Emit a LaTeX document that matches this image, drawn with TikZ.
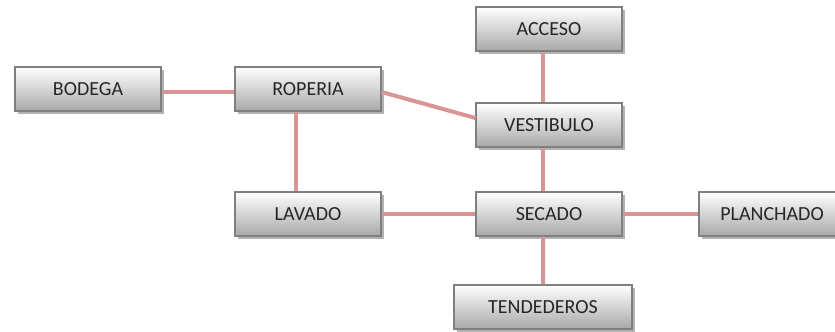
\documentclass[tikz,border=0pt]{standalone}
\usepackage{fontspec}
\setmainfont{Carlito}
\usepackage{xcolor}
\usetikzlibrary{shadows}
\definecolor{linkpink}{HTML}{D99594}
\definecolor{boxedge}{HTML}{7F7F7F}
\tikzset{every node/.append style={font=\fontsize{12}{14}\selectfont}}

\begin{document}
\begin{tikzpicture}[x=0.6pt, y=-0.6pt,
    room/.style={draw=boxedge, line width=0.7pt, top color=white, bottom color=black!34,
      text=black!85, minimum width=87.6pt, minimum height=26.4pt, inner sep=0pt,
      drop shadow={shadow xshift=1.8pt, shadow yshift=-1.8pt, fill=black!30, opacity=1}},
    link/.style={draw=linkpink, line width=2.4pt}]
    \useasboundingbox (0,0) rectangle (835,331);
    % rooms
    \node[room] (bodega) at (88,89) {BODEGA};
    \node[room] (roperia) at (308,89) {ROPERIA};
    \node[room] (acceso) at (549,29) {ACCESO};
    \node[room] (vestibulo) at (549,125) {VESTIBULO};
    \node[room] (lavado) at (308,214) {LAVADO};
    \node[room] (secado) at (549,214) {SECADO};
    \node[room] (planchado) at (772,214) {PLANCHADO};
    \node[room, minimum width=106.8pt] (tendederos) at (543,307) {TENDEDEROS};
    % links between rooms
    \draw[link] ([yshift=-1.8pt]bodega.east) -- ([yshift=-1.8pt]roperia.west);
    \draw[link] ([yshift=-1.8pt]roperia.east) -- ([yshift=4.2pt]vestibulo.west);
    \draw[link] ([xshift=-7.2pt]roperia.south) -- ([xshift=-7.2pt]lavado.north);
    \draw[link] ([xshift=-3.6pt]acceso.south) -- ([xshift=-3.6pt]vestibulo.north);
    \draw[link] ([xshift=-3.6pt]vestibulo.south) -- ([xshift=-3.6pt]secado.north);
    \draw[link] (lavado.east) -- (secado.west);
    \draw[link] (secado.east) -- (planchado.west);
    \draw[link] ([xshift=-3.6pt]secado.south) -- (tendederos.north);
\end{tikzpicture}
\end{document}
